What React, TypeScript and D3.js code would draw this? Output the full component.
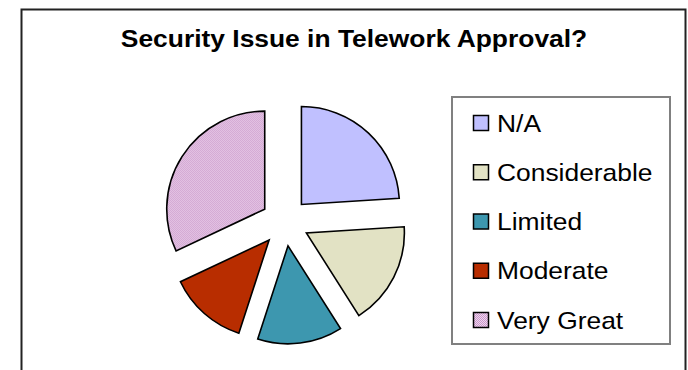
import React from "react";
import * as d3 from "d3";

const categories = ["N/A", "Considerable", "Limited", "Moderate", "Very Great"];
const values = [24, 17, 14, 13, 32];
const colors = ["#C0C0FF", "#E2E2C4", "#3D97AF", "#B82D00", "url(#hatch)"];
const title = "Security Issue in Telework Approval?";

const W = 688;
const H = 370;
const cx = 285;
const cy = 222;
const R = 98;
const EXPLODE = 24;
const SX = 1.1;

export default function App() {
  const pie = d3.pie<number>().sort(null).startAngle(0).endAngle(2 * Math.PI);
  const arcs = pie(values);
  const arc = d3.arc<d3.PieArcDatum<number>>().innerRadius(0).outerRadius(R);

  const legendY = d3
    .scalePoint<string>()
    .domain(categories)
    .range([123, 320]);

  return (
    <svg
      width={W}
      height={H}
      style={{ position: "absolute", left: 0, top: 0, background: "#fff" }}
      fontFamily="'Liberation Sans', Arial, sans-serif"
    >
      <defs>
        <pattern id="hatch" width={2} height={2} patternUnits="userSpaceOnUse">
          <rect width={2} height={2} fill="#EED6EE" />
          <rect width={1} height={1} fill="#C996C9" />
          <rect x={1} y={1} width={1} height={1} fill="#C996C9" />
        </pattern>
      </defs>
      <rect x={0} y={0} width={W} height={H} fill="#fff" />
      <rect x={21.5} y={9.5} width={664} height={380} fill="#fff" stroke="#222" strokeWidth={2} />
      <text
        transform={`translate(354,47) scale(${SX},1)`}
        textAnchor="middle"
        fontSize={24}
        fontWeight="bold"
        fill="#000"
      >
        {title}
      </text>
      <g>
        {arcs.map((a, i) => {
          const mid = (a.startAngle + a.endAngle) / 2;
          const dx = Math.sin(mid) * EXPLODE;
          const dy = -Math.cos(mid) * EXPLODE;
          return (
            <path
              key={categories[i]}
              d={arc(a) || ""}
              transform={`translate(${cx + dx},${cy + dy})`}
              fill={colors[i]}
              stroke="#000"
              strokeWidth={1.6}
              strokeLinejoin="miter"
            />
          );
        })}
      </g>
      <rect x={452} y={97} width={218} height={247} fill="#fff" stroke="#808080" strokeWidth={2} />
      {categories.map((c, i) => {
        const y = legendY(c) as number;
        return (
          <g key={c}>
            <rect x={473.5} y={y - 7.5} width={15} height={15} fill={colors[i]} stroke="#000" strokeWidth={1.5} />
            <text
              transform={`translate(497,${y + 8.5}) scale(${SX},1)`}
              fontSize={24}
              fill="#000"
            >
              {c}
            </text>
          </g>
        );
      })}
    </svg>
  );
}
